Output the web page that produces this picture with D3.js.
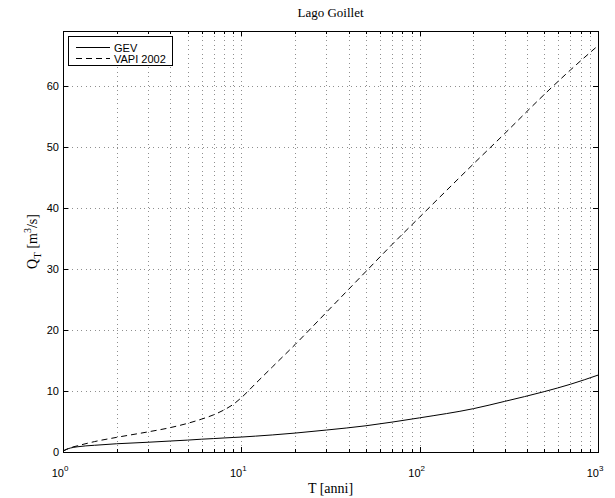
<!DOCTYPE html>
<html><head><meta charset="utf-8">
<script src="https://cdn.jsdelivr.net/npm/d3@7"></script>
<style>body{margin:0;background:#fff}svg{display:block}</style>
</head><body>
<svg id="c" width="615" height="498"></svg>
<script>
const T = [1, 1.05, 1.1, 1.2, 1.5, 2, 3, 4, 5, 6, 7, 8, 9, 10, 12, 15, 20, 30, 50, 70, 100, 200, 300, 500, 700, 1000];
const gev = [0.1, 0.45, 0.65, 0.85, 1.1, 1.35, 1.6, 1.8, 1.95, 2.1, 2.2, 2.3, 2.38, 2.45, 2.6, 2.8, 3.1, 3.6, 4.3, 4.9, 5.6, 7.1, 8.3, 9.9, 11.1, 12.6];
const vapi = [0.2, 0.45, 0.7, 1.0, 1.7, 2.4, 3.3, 4.0, 4.7, 5.4, 6.1, 6.9, 7.8, 8.9, 11.2, 14.0, 17.6, 22.9, 29.6, 34.0, 38.5, 47.2, 52.2, 58.6, 62.6, 66.6];
const yTicks = [0, 10, 20, 30, 40, 50, 60];
const xMajor = [1, 10, 100, 1000];
const xExp = ["0", "1", "2", "3"];
const seriesNames = ["GEV", "VAPI 2002"];

const L = 63, R = 598, Tp = 31, B = 452;
const svg = d3.select("#c");
const x = d3.scaleLog().domain([1, 1000]).range([L, R]);
const y = d3.scaleLinear().domain([0, 69]).range([B, Tp]);

const minor = [];
for (let d = 1; d < 1000; d *= 10) for (let k = 2; k <= 9; k++) minor.push(d * k);

const g = svg.append("g");
// grid
const gridStyle = s => s.attr("stroke", "#444").attr("stroke-width", 0.6).attr("stroke-dasharray", "1,3.5").attr("shape-rendering", "crispEdges");
g.selectAll(".vg").data(minor.concat([10, 100])).enter().append("line")
  .attr("x1", d => Math.round(x(d)) + 0.5).attr("x2", d => Math.round(x(d)) + 0.5)
  .attr("y1", Tp).attr("y2", B).call(gridStyle);
g.selectAll(".hg").data(yTicks.filter(d => d > 0)).enter().append("line")
  .attr("x1", L).attr("x2", R).attr("y1", d => Math.round(y(d)) + 0.5).attr("y2", d => Math.round(y(d)) + 0.5).call(gridStyle);

// ticks
const tick = (x1, y1, x2, y2) => g.append("line").attr("x1", x1).attr("y1", y1).attr("x2", x2).attr("y2", y2).attr("stroke", "#000").attr("stroke-width", 1).attr("shape-rendering", "crispEdges");
xMajor.forEach(d => { const px = Math.round(x(d)) + 0.5; tick(px, B, px, B - 5); tick(px, Tp, px, Tp + 5); });
minor.forEach(d => { const px = Math.round(x(d)) + 0.5; tick(px, B, px, B - 3); tick(px, Tp, px, Tp + 3); });
yTicks.forEach(d => { const py = Math.round(y(d)) + 0.5; tick(L, py, L + 5, py); tick(R, py, R - 5, py); });

// lines
const line = vals => d3.line().x((d, i) => x(T[i])).y(d => y(d)).curve(d3.curveMonotoneX)(vals);
g.append("path").attr("d", line(gev)).attr("fill", "none").attr("stroke", "#000").attr("stroke-width", 1);
g.append("path").attr("d", line(vapi)).attr("fill", "none").attr("stroke", "#000").attr("stroke-width", 1).attr("stroke-dasharray", "6,4");

// box
g.append("rect").attr("x", L + 0.5).attr("y", Tp + 0.5).attr("width", R - L).attr("height", B - Tp).attr("fill", "none").attr("stroke", "#000").attr("stroke-width", 1).attr("shape-rendering", "crispEdges");

// tick labels
const sans = "'Liberation Sans', Arial, Helvetica, sans-serif";
const serif = "'Liberation Serif', 'Times New Roman', serif";
yTicks.forEach(d => {
  svg.append("text").attr("x", L - 4).attr("y", y(d) + 4).attr("text-anchor", "end")
    .attr("font-family", sans).attr("font-size", 11).text(d);
});
xMajor.forEach((d, i) => {
  const t = svg.append("text").attr("x", x(d) - 3).attr("y", 477).attr("text-anchor", "middle")
    .attr("font-family", sans).attr("font-size", 11);
  t.append("tspan").text("10");
  t.append("tspan").attr("dy", -6).attr("font-size", 8).text(xExp[i]);
});

// title, labels
svg.append("text").attr("x", (L + R) / 2).attr("y", 17).attr("text-anchor", "middle")
  .attr("font-family", serif).attr("font-size", 13).text("Lago Goillet");
svg.append("text").attr("x", (L + R) / 2).attr("y", 493).attr("text-anchor", "middle")
  .attr("font-family", serif).attr("font-size", 14).text("T [anni]");
const yl = svg.append("text").attr("transform", `translate(37,${(Tp + B) / 2}) rotate(-90)`).attr("text-anchor", "middle")
  .attr("font-family", serif).attr("font-size", 14);
yl.append("tspan").text("Q");
yl.append("tspan").attr("dy", 4).attr("font-size", 11).text("T");
yl.append("tspan").attr("dy", -4).text(" [m");
yl.append("tspan").attr("dy", -6).attr("font-size", 10).text("3");
yl.append("tspan").attr("dy", 6).text("/s]");

// legend
const lg = svg.append("g");
lg.append("rect").attr("x", 68.5).attr("y", 36.5).attr("width", 104).attr("height", 29).attr("fill", "#fff").attr("stroke", "#000").attr("stroke-width", 1).attr("shape-rendering", "crispEdges");
[0, 1].forEach(i => {
  const yy = 47.5 + i * 11;
  lg.append("line").attr("x1", 76).attr("x2", 110).attr("y1", yy).attr("y2", yy).attr("stroke", "#000").attr("stroke-width", 1)
    .attr("stroke-dasharray", i ? "6,4" : null);
  lg.append("text").attr("x", 114).attr("y", yy + 4).attr("font-family", sans).attr("font-size", 11).text(seriesNames[i]);
});
</script>
</body></html>
